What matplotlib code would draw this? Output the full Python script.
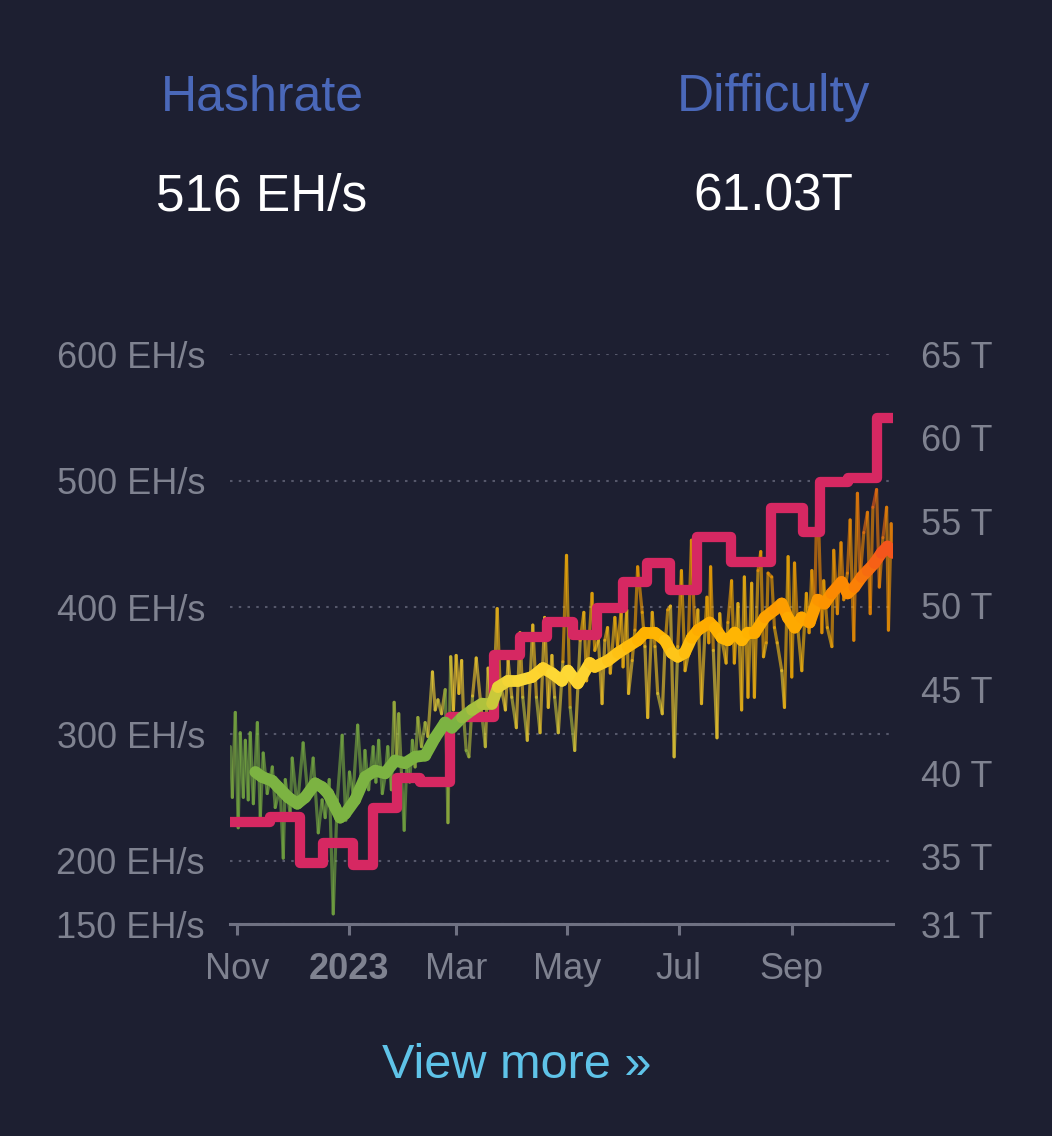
import numpy as np
import matplotlib
matplotlib.use('Agg')
import matplotlib.pyplot as plt
import matplotlib.dates as mdates
from matplotlib.collections import LineCollection
from matplotlib.colors import LinearSegmentedColormap

plt.rcParams['font.family'] = ['Liberation Sans', 'DejaVu Sans']

# ---- data (days counted from 2022-11-01) ----
start_date = '2022-11-01'
x_range = (-4, 359.5)

# raw hashrate, EH/s
hash_days = [-3.8, -2.7, -1.1, 0.5, 1.6, 3.3, 4.4, 6.0, 7.1, 8.8, 11, 12.6, 14.2, 16.4, 19.2, 20.8,
             23.5, 25.2, 26.3, 29, 30.1, 32.9, 36.1, 38.9, 41.6, 44.4, 46.5, 48.2, 50.4, 52.6, 54.8, 57.5,
             59.5, 61.5, 63.5, 66, 68.5, 70, 72, 74.5, 76, 77.5, 79.5, 81, 82.5, 84.5, 86, 87.5,
             88.5, 90, 91.5, 93, 94.5, 96, 97.5, 99, 101, 103, 104.5, 107, 108.5, 110, 112, 114,
             115.5, 117, 118.5, 120, 121.5, 123, 124, 125.5, 127, 129, 131, 134, 136, 137.5, 140, 142.5,
             144, 147, 148.5, 150.5, 153, 155, 156.5, 159, 162, 164, 166, 168.5, 170.5, 172.5, 174, 176,
             178.5, 180.5, 182.5, 185, 188, 190, 191.5, 194.5, 196, 198, 200, 201.5, 203, 204.5, 207, 208.5,
             210.5, 211.5, 213.5, 214.5, 216.5, 218, 219.5, 222, 223.5, 225, 227.5, 229, 230.5, 233, 234.5, 236,
             237.5, 239.5, 241.5, 243.5, 245.5, 247, 249, 251, 252.5, 254.5, 256.5, 257.5, 258.5, 259.5, 261, 263,
             264.5, 266, 268, 269, 271, 272.5, 274.5, 276.5, 278, 280, 282, 283.5, 285.5, 287, 288.5, 290,
             291, 293, 294.5, 296, 298.5, 300, 302, 304, 305.5, 307, 309.5, 312, 313.5, 315, 316.5, 318,
             320.5, 321.5, 323.5, 326, 327, 329, 331, 332.5, 334.5, 336, 338, 340, 341.5, 343.5, 345.5, 347,
             348.5, 350.5, 352, 354, 356, 357, 358.5, 359.3]
hash_vals = [290, 250, 317, 226, 301, 250, 295, 248, 301, 245, 309, 234, 285, 253, 274, 242,
             258, 202, 264, 237, 281, 242, 293, 248, 281, 222, 248, 234, 264, 158, 248, 299,
             232, 270, 253, 307, 253, 287, 256, 290, 262, 295, 253, 266, 290, 256, 325, 279,
             316, 269, 224, 279, 262, 295, 274, 313, 290, 309, 298, 349, 319, 327, 316, 335,
             230, 361, 319, 362, 332, 358, 316, 287, 282, 330, 360, 316, 290, 352, 311, 399,
             342, 319, 358, 329, 305, 380, 329, 295, 386, 329, 301, 392, 321, 362, 329, 301,
             357, 441, 321, 287, 374, 396, 342, 411, 366, 374, 324, 374, 384, 348, 392, 369,
             398, 353, 398, 332, 358, 382, 432, 396, 369, 313, 396, 369, 332, 316, 369, 398,
             401, 282, 369, 429, 350, 361, 453, 374, 398, 324, 384, 408, 372, 432, 366, 297,
             395, 372, 356, 388, 421, 356, 403, 319, 424, 329, 419, 329, 429, 444, 361, 372,
             427, 424, 384, 372, 350, 321, 440, 345, 435, 388, 350, 411, 380, 429, 395, 500,
             380, 421, 384, 369, 445, 395, 451, 406, 427, 469, 374, 490, 424, 459, 475, 395,
             479, 493, 416, 455, 479, 382, 466, 440]

# moving average hashrate, EH/s
avg_days = [9.9, 13.7, 19.2, 22.5, 27.9, 32.9, 37.2, 42.7, 46.5, 49.8, 53.7, 56.4, 59.1, 64.6, 70.1, 75.6,
            81, 86.5, 92, 97.5, 103, 108.4, 113.9, 117.7, 123.2, 128.7, 134.2, 139.7, 142.9, 148.4, 153.9, 161.6,
            167.6, 172.5, 178, 181.3, 186.7, 193.3, 196, 203.2, 208.7, 214.1, 219.6, 223.4, 228.9, 234.4, 238.2, 241.5,
            245.3, 249.2, 252.5, 259, 261.8, 265.6, 268.9, 272.7, 276.6, 279.8, 283.7, 289.2, 294.6, 298.5, 301.8, 305.6,
            309.4, 313.8, 318.2, 322, 325.8, 331.3, 334.6, 338.4, 342.3, 345.6, 349.4, 353.2, 356.5, 359.3]
avg_vals = [270, 266, 263, 258, 250, 245, 250, 261, 258, 253, 242, 234, 237, 248, 266, 271,
            269, 279, 277, 282, 283, 297, 309, 305, 313, 319, 324, 324, 337, 342, 342, 345,
            352, 348, 342, 350, 340, 356, 353, 358, 364, 369, 374, 380, 380, 374, 364, 361,
            364, 376, 382, 388, 384, 376, 374, 380, 374, 380, 380, 392, 398, 403, 392, 384,
            392, 388, 406, 403, 411, 420, 411, 416, 424, 429, 435, 443, 448, 443]

# difficulty, T (step changes)
diff_days = [-4, 18, 34.5, 47, 63.5, 74.5, 87.6, 100.2, 116.6, 140.7, 155, 169.8, 184, 197.2, 211.4, 224.5,
             237.1, 251.9, 270.5, 292.5, 310, 319.3, 334.6, 350.5, 359.5]
diff_vals = [37.09, 37.38, 34.64, 35.83, 34.52, 37.92, 39.71, 39.47, 43.35, 47.05, 48.12, 49.02, 48.24, 49.85,
             51.41, 52.54, 50.93, 54.09, 52.6, 55.82, 54.39, 57.37, 57.6, 61.19, 61.19]

month_ticks = ['2022-11-01', '2023-01-01', '2023-03-01', '2023-05-01', '2023-07-01', '2023-09-01']
month_labels = ['Nov', '2023', 'Mar', 'May', 'Jul', 'Sep']
hash_ticks = [150, 200, 300, 400, 500, 600]
diff_ticks = [31, 35, 40, 45, 50, 55, 60, 65]

# ---- style ----
BG = '#1d1f31'
GRAY = '#7f8290'
AXIS = '#6f7182'
TITLE = '#4a68b9'
PINK = '#d62862'
grad = LinearSegmentedColormap.from_list(
    'hash', ['#F4511E', '#FB8C00', '#FFB300', '#FDD835', '#7CB342'])

base = mdates.date2num(np.datetime64(start_date))


def colored_segments(xs, ys, top, span, **kw):
    pts = np.column_stack([xs, ys])
    segs = np.stack([pts[:-1], pts[1:]], axis=1)
    mid = (np.asarray(ys[:-1]) + np.asarray(ys[1:])) / 2
    t = np.clip((top - mid) / span, 0, 1)
    return LineCollection(segs, colors=grad(t), capstyle='round', joinstyle='round', **kw)


fig = plt.figure(figsize=(10.52, 11.36), dpi=100, facecolor=BG)
ax = fig.add_axes([230 / 1052, 1 - 924 / 1136, 663 / 1052, 570 / 1136])
ax.set_facecolor(BG)
ax2 = ax.twinx()

hx = base + np.array(hash_days)
ax.add_collection(colored_segments(hx, hash_vals, 500, 222, linewidths=2.3, alpha=0.6, zorder=2))

dx = base + np.array(diff_days)
ax2.plot(dx, diff_vals, drawstyle='steps-post', color=PINK, lw=7.4,
         solid_joinstyle='round', solid_capstyle='butt', zorder=2)

ax_x = base + np.array(avg_days)
ax2.add_collection(colored_segments(ax_x, avg_vals, 448, 138, linewidths=8.5,
                                    transform=ax.transData, zorder=3))

ax.set_xlim(base + x_range[0], base + x_range[1])
ax.set_ylim(150, 600)
ax2.set_ylim(31, 65)

ax.set_xticks(mdates.date2num(np.array(month_ticks, dtype='datetime64[D]')))
ax.set_xticklabels(month_labels)
ax.get_xticklabels()[1].set_fontweight('bold')

ax.set_yticks(hash_ticks)
ax.set_yticklabels([f'{v} EH/s' for v in hash_ticks])
ax2.set_yticks(diff_ticks)
ax2.set_yticklabels([f'{v} T' for v in diff_ticks])

ax.tick_params(axis='x', colors=AXIS, labelcolor=GRAY, labelsize=26, length=8, width=2.2, pad=12)
ax.tick_params(axis='y', length=0, pad=18, labelsize=26, labelcolor=GRAY)
ax2.tick_params(axis='y', length=0, pad=20, labelsize=26, labelcolor=GRAY)

ax.grid(axis='y', color='#56586b', linestyle=(0, (1.2, 3)), linewidth=1.5)
ax.set_axisbelow(True)

for s in ['left', 'right', 'top']:
    ax.spines[s].set_visible(False)
for s in ax2.spines.values():
    s.set_visible(False)
ax.spines['bottom'].set_color(AXIS)
ax.spines['bottom'].set_linewidth(2.2)

fig.text(0.249, 1 - 111 / 1136, 'Hashrate', color=TITLE, fontsize=36, ha='center', va='baseline')
fig.text(0.735, 1 - 111 / 1136, 'Difficulty', color=TITLE, fontsize=37, ha='center', va='baseline')
fig.text(0.249, 1 - 211 / 1136, '516 EH/s', color='white', fontsize=37, ha='center', va='baseline')
fig.text(0.735, 1 - 211 / 1136, '61.03T', color='white', fontsize=37, ha='center', va='baseline')
fig.text(0.4914, 1 - 1078 / 1136, 'View more \u00bb', color='#5fc3e8', fontsize=35, ha='center', va='baseline')

fig.savefig('out.png', dpi=100, facecolor=BG)
